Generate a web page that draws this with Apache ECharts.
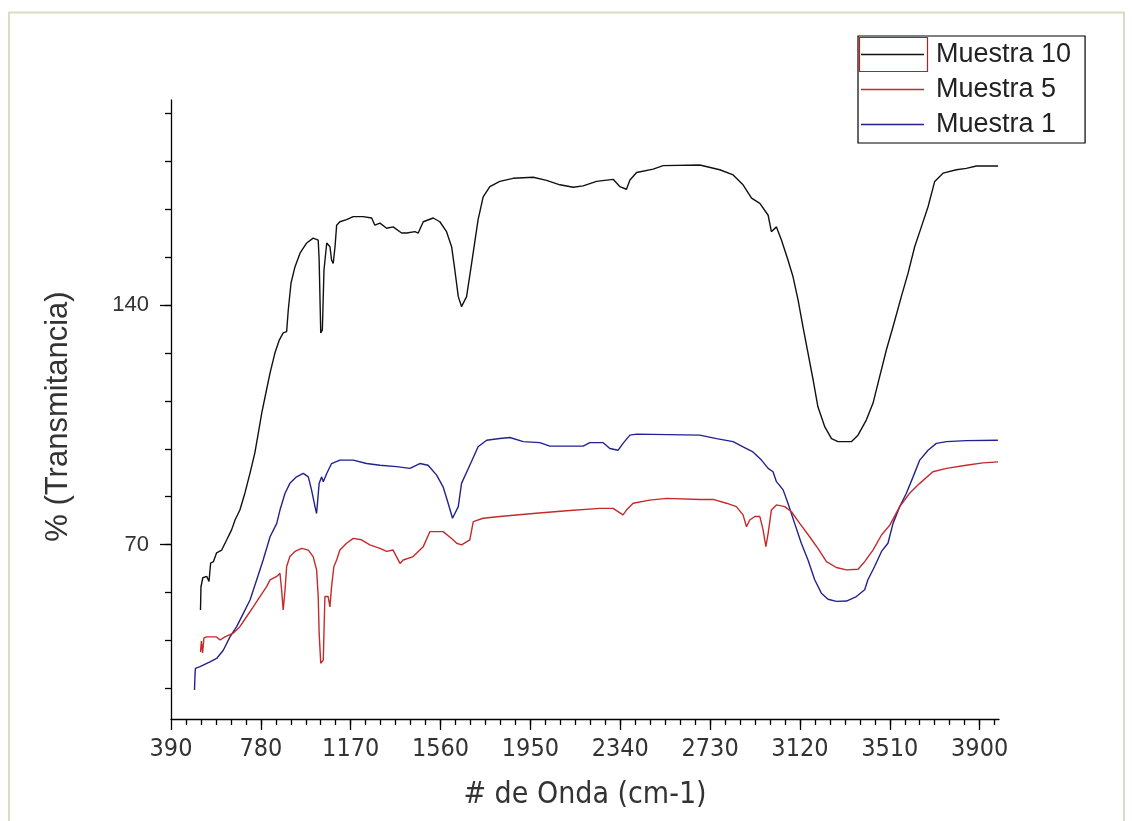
<!DOCTYPE html>
<html><head><meta charset="utf-8">
<script src="https://cdn.jsdelivr.net/npm/echarts@6/dist/echarts.min.js"></script>
<style>html,body{margin:0;padding:0;background:#fff}#chart{width:1132px;height:821px}</style>
</head><body><div id="chart"></div>
<script>
// ---- data (wavenumber cm-1, % transmittance) ----
const seriesNames = ['Muestra 10', 'Muestra 5', 'Muestra 1'];

const muestra10 = [
  [518,50.9],[520,57.6],[528,60.3],[545,60.7],[555,59.2],[562,64.6],[574,65.0],[588,67.6],[610,68.4],
  [632,71.4],[653,74.3],[668,77.2],[689,80.1],[711,85.1],[733,90.9],[754,96.8],[769,102.6],[784,108.5],
  [802,114.4],[820,120.2],[841,126.0],[860,129.8],[877,131.9],[892,132.3],[899,138.6],[911,146.5],
  [928,151.2],[950,155.2],[979,158.2],[1007,159.6],[1029,159.0],[1033,153.2],[1040,131.9],[1047,132.8],
  [1054,150.3],[1066,158.2],[1080,157.1],[1087,153.2],[1094,152.2],[1102,157.1],[1109,163.4],[1123,164.4],
  [1152,165.0],[1181,165.9],[1224,165.9],[1261,165.5],[1275,163.4],[1297,164.0],[1326,162.5],[1354,162.9],
  [1391,161.1],[1413,161.1],[1449,161.5],[1463,161.1],[1485,164.4],[1528,165.5],[1557,164.4],[1586,161.5],
  [1608,157.1],[1622,150.3],[1637,142.5],[1651,139.6],[1673,142.5],[1695,152.3],[1723,165.0],[1745,171.7],
  [1774,174.7],[1817,176.2],[1875,177.1],[1962,177.4],[2020,176.5],[2078,175.2],[2136,174.5],[2179,174.9],
  [2237,176.2],[2309,176.8],[2338,174.7],[2367,173.9],[2382,176.6],[2411,178.8],[2483,179.8],[2526,180.8],
  [2685,181.0],[2772,179.6],[2830,178.1],[2873,175.2],[2910,171.3],[2946,169.8],[2982,166.3],[2996,161.5],
  [3018,162.9],[3040,159.0],[3068,153.2],[3090,148.3],[3112,141.5],[3133,133.7],[3155,126.0],[3177,118.2],
  [3198,110.3],[3228,104.4],[3257,101.0],[3285,100.1],[3343,100.1],[3372,102.0],[3408,106.4],[3437,111.3],
  [3466,119.1],[3495,126.9],[3524,133.7],[3560,142.5],[3589,149.3],[3618,157.1],[3647,162.9],[3676,168.8],
  [3705,176.2],[3741,178.6],[3799,179.6],[3842,180.0],[3886,180.7],[3980,180.7]
];

const muestra5 = [
  [518,38.6],[522,41.8],[527,38.3],[533,42.7],[545,43.0],[588,43.0],[603,42.1],[624,43.0],[660,44.1],
  [689,46.0],[718,48.9],[747,51.8],[776,54.8],[805,57.7],[820,59.7],[849,60.7],[863,61.6],[870,56.8],
  [877,50.9],[885,56.8],[892,63.6],[906,66.5],[928,68.0],[957,68.9],[986,68.4],[1007,66.5],[1022,62.6],
  [1029,54.8],[1033,44.1],[1040,35.3],[1051,36.2],[1058,54.8],[1072,54.8],[1080,51.8],[1087,57.7],
  [1097,63.6],[1109,65.5],[1123,68.4],[1152,70.4],[1181,71.8],[1217,71.4],[1253,69.9],[1297,68.9],
  [1326,68.0],[1354,68.4],[1384,64.5],[1398,65.5],[1441,66.5],[1470,68.4],[1485,69.4],[1514,73.8],
  [1571,73.8],[1608,71.8],[1630,70.4],[1651,69.9],[1687,71.4],[1702,76.7],[1745,77.7],[1817,78.2],
  [1962,79.1],[2107,79.9],[2251,80.6],[2309,80.6],[2352,78.7],[2367,80.1],[2396,82.1],[2468,83.0],
  [2541,83.5],[2685,83.2],[2743,83.2],[2801,82.1],[2844,81.1],[2873,78.7],[2888,75.2],[2902,77.2],
  [2924,78.2],[2946,78.2],[2960,74.3],[2972,69.4],[2982,73.3],[2996,80.1],[3018,81.6],[3054,81.1],
  [3083,79.6],[3119,76.2],[3162,72.3],[3198,68.9],[3235,65.0],[3278,63.3],[3322,62.6],[3372,62.8],
  [3401,65.0],[3437,68.4],[3474,72.8],[3510,75.7],[3553,81.1],[3596,85.0],[3640,87.9],[3697,91.3],
  [3756,92.3],[3842,93.2],[3914,93.9],[3980,94.2]
];

const muestra1 = [
  [492,27.5],[494,31.6],[496,33.8],[516,34.3],[559,35.7],[588,36.7],[617,39.1],[646,43.0],[675,46.0],
  [704,49.9],[733,53.8],[762,59.7],[790,65.5],[820,72.3],[849,76.2],[863,80.1],[885,85.0],[906,87.9],
  [935,89.8],[964,90.8],[986,89.8],[1000,86.0],[1015,81.1],[1022,79.1],[1033,87.9],[1044,89.8],
  [1051,88.4],[1066,90.8],[1087,93.7],[1123,94.7],[1181,94.7],[1239,93.7],[1297,93.2],[1369,92.8],
  [1427,92.3],[1470,93.7],[1506,93.2],[1543,90.3],[1571,86.9],[1593,82.1],[1612,77.7],[1637,81.1],
  [1651,87.9],[1687,93.2],[1723,98.6],[1760,100.5],[1817,101.0],[1861,101.3],[1919,100.1],[1991,99.8],
  [2034,98.8],[2179,98.8],[2208,99.8],[2266,99.8],[2295,98.1],[2331,97.6],[2352,99.6],[2382,102.0],
  [2411,102.3],[2685,102.0],[2758,101.0],[2830,100.1],[2873,98.6],[2916,97.1],[2953,94.7],[2982,92.3],
  [3003,91.3],[3018,88.4],[3047,86.0],[3068,82.1],[3097,76.2],[3126,70.4],[3155,65.5],[3184,59.7],
  [3213,55.8],[3242,54.0],[3278,53.4],[3322,53.5],[3365,54.8],[3401,56.8],[3415,59.7],[3444,63.6],
  [3474,68.0],[3502,70.4],[3524,76.2],[3553,81.1],[3582,85.0],[3611,89.8],[3640,94.7],[3676,97.6],
  [3712,99.6],[3756,100.1],[3842,100.4],[3979,100.5]
];

const xMajorTicks = [390, 780, 1170, 1560, 1950, 2340, 2730, 3120, 3510, 3900];
const xMinorStep = 65;
const yLabelTicks = [70, 140];
const yMinorStep = 14;
const xRange = [390, 3984];
const yRange = [19, 200];

// ---- build ----
const xMinorTicks = [];
for (let v = xRange[0] + xMinorStep; v < xRange[1]; v += xMinorStep) xMinorTicks.push(v);
const yMinorTicks = [];
for (let v = 28; v < yRange[1]; v += yMinorStep) yMinorTicks.push(v);

const colors = ['#111111', '#c42a2a', '#22228f'];
const dataSets = [muestra10, muestra5, muestra1];
const narrow = "'Liberation Sans Narrow', 'DejaVu Sans Condensed', 'Liberation Sans', sans-serif";
const regular = "'Liberation Sans', Arial, sans-serif";
const plain = v => String(v);

const chart = echarts.init(document.getElementById('chart'), null, {renderer: 'canvas'});
chart.setOption({
  animation: false,
  backgroundColor: '#ffffff',
  grid: {left: 171, top: 100, right: 133, bottom: 102},
  legend: {
    data: seriesNames.map(n => ({name: n, icon: 'rect'})),
    orient: 'vertical',
    left: 858, top: 36,
    padding: [5, 14, 5, 3],
    itemWidth: 63, itemHeight: 1.6, itemGap: 8,
    borderColor: '#000', borderWidth: 1.2,
    textStyle: {fontFamily: regular, fontSize: 27, color: '#222', padding: [0, 0, 0, 7]}
  },
  xAxis: [{
    type: 'value', min: xRange[0], max: xRange[1], position: 'bottom',
    name: '# de Onda (cm-1)', nameLocation: 'middle', nameGap: 61,
    nameTextStyle: {fontFamily: narrow, fontSize: 30, color: '#333'},
    axisLine: {show: true, onZero: false, lineStyle: {color: '#000', width: 1.3}},
    axisTick: {show: true, inside: false, length: 6, customValues: xMinorTicks, lineStyle: {color: '#000', width: 1.3}},
    axisLabel: {customValues: xMajorTicks, formatter: plain, margin: 18, fontFamily: narrow, fontSize: 25, color: '#333'},
    splitLine: {show: false}
  }, {
    type: 'value', min: xRange[0], max: xRange[1], position: 'bottom',
    axisLine: {show: false, onZero: false},
    axisTick: {show: true, inside: false, length: 11, customValues: xMajorTicks, lineStyle: {color: '#000', width: 1.3}},
    axisLabel: {show: false}, splitLine: {show: false}
  }],
  yAxis: [{
    type: 'value', min: yRange[0], max: yRange[1], position: 'left',
    name: '% (Transmitancia)', nameLocation: 'middle', nameGap: 97,
    nameTextStyle: {fontFamily: regular, fontSize: 31, color: '#333', padding: [0, 14, 0, 0]},
    axisLine: {show: true, onZero: false, lineStyle: {color: '#000', width: 1.3}},
    axisTick: {show: true, inside: false, length: 6, customValues: yMinorTicks, lineStyle: {color: '#000', width: 1.3}},
    axisLabel: {customValues: yLabelTicks, formatter: plain, margin: 22, fontFamily: regular, fontSize: 22, color: '#333'},
    splitLine: {show: false}
  }, {
    type: 'value', min: yRange[0], max: yRange[1], position: 'left',
    axisLine: {show: false, onZero: false},
    axisTick: {show: true, inside: false, length: 11, customValues: yLabelTicks, lineStyle: {color: '#000', width: 1.3}},
    axisLabel: {show: false}, splitLine: {show: false}
  }],
  series: seriesNames.map((n, i) => ({
    name: n, type: 'line', xAxisIndex: 0, yAxisIndex: 0,
    data: dataSets[i], symbol: 'none', showSymbol: false,
    lineStyle: {color: colors[i], width: 1.4}, itemStyle: {color: colors[i]},
    z: 3 - i
  })),
  graphic: [
    {type: 'rect', shape: {x: 9, y: 12.5, width: 1115, height: 840}, style: {fill: 'none', stroke: '#dedbc4', lineWidth: 2}, silent: true},
    {type: 'rect', shape: {x: 859.5, y: 37.5, width: 68, height: 34}, style: {fill: 'none', stroke: '#b22222', lineWidth: 1.2}, silent: true, z: 100}
  ]
});
</script>
</body></html>
